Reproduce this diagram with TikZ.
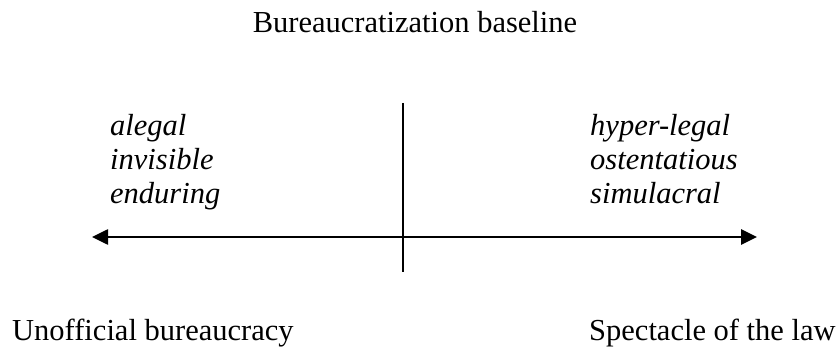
\documentclass[tikz,border=0pt]{standalone}
\usepackage{fontspec}
\setmainfont{Liberation Serif}
\usetikzlibrary{arrows.meta}
\tikzset{
  lbl/.style={inner sep=0pt, font=\fontsize{30.5}{34}\selectfont},
  itl/.style={inner sep=0pt, anchor=base west, font=\fontsize{30.5}{34}\selectfont\itshape},
  axis/.style={line width=2.6pt, {Triangle[length=16pt,width=15pt]}-{Triangle[length=16pt,width=15pt]}},
  divider/.style={line width=1.5pt}
}
\begin{document}
\begin{tikzpicture}[x=1pt,y=-1pt]
\useasboundingbox (0,0) rectangle (837,347);
\node[lbl, anchor=base] (title) at (415,33) {Bureaucratization baseline};
\node[lbl, anchor=base west] (unoff) at (12,340) {Unofficial bureaucracy};
\node[lbl, anchor=base west] (spect) at (589,340) {Spectacle of the law};
\node[itl] (alegal) at (110,136) {alegal};
\node[itl] (invis) at (110,170) {invisible};
\node[itl] (endur) at (110,204) {enduring};
\node[itl] (hyper) at (590,136) {hyper-legal};
\node[itl] (osten) at (590,170) {ostentatious};
\node[itl] (simul) at (590,204) {simulacral};
\coordinate (axL) at (92,237);
\coordinate (axR) at (757,237);
\coordinate (vT) at (403,103);
\coordinate (vB) at (403,272);
\draw[divider] (vT) -- (vB);
\draw[axis] (axL) -- (axR);
\end{tikzpicture}
\end{document}
